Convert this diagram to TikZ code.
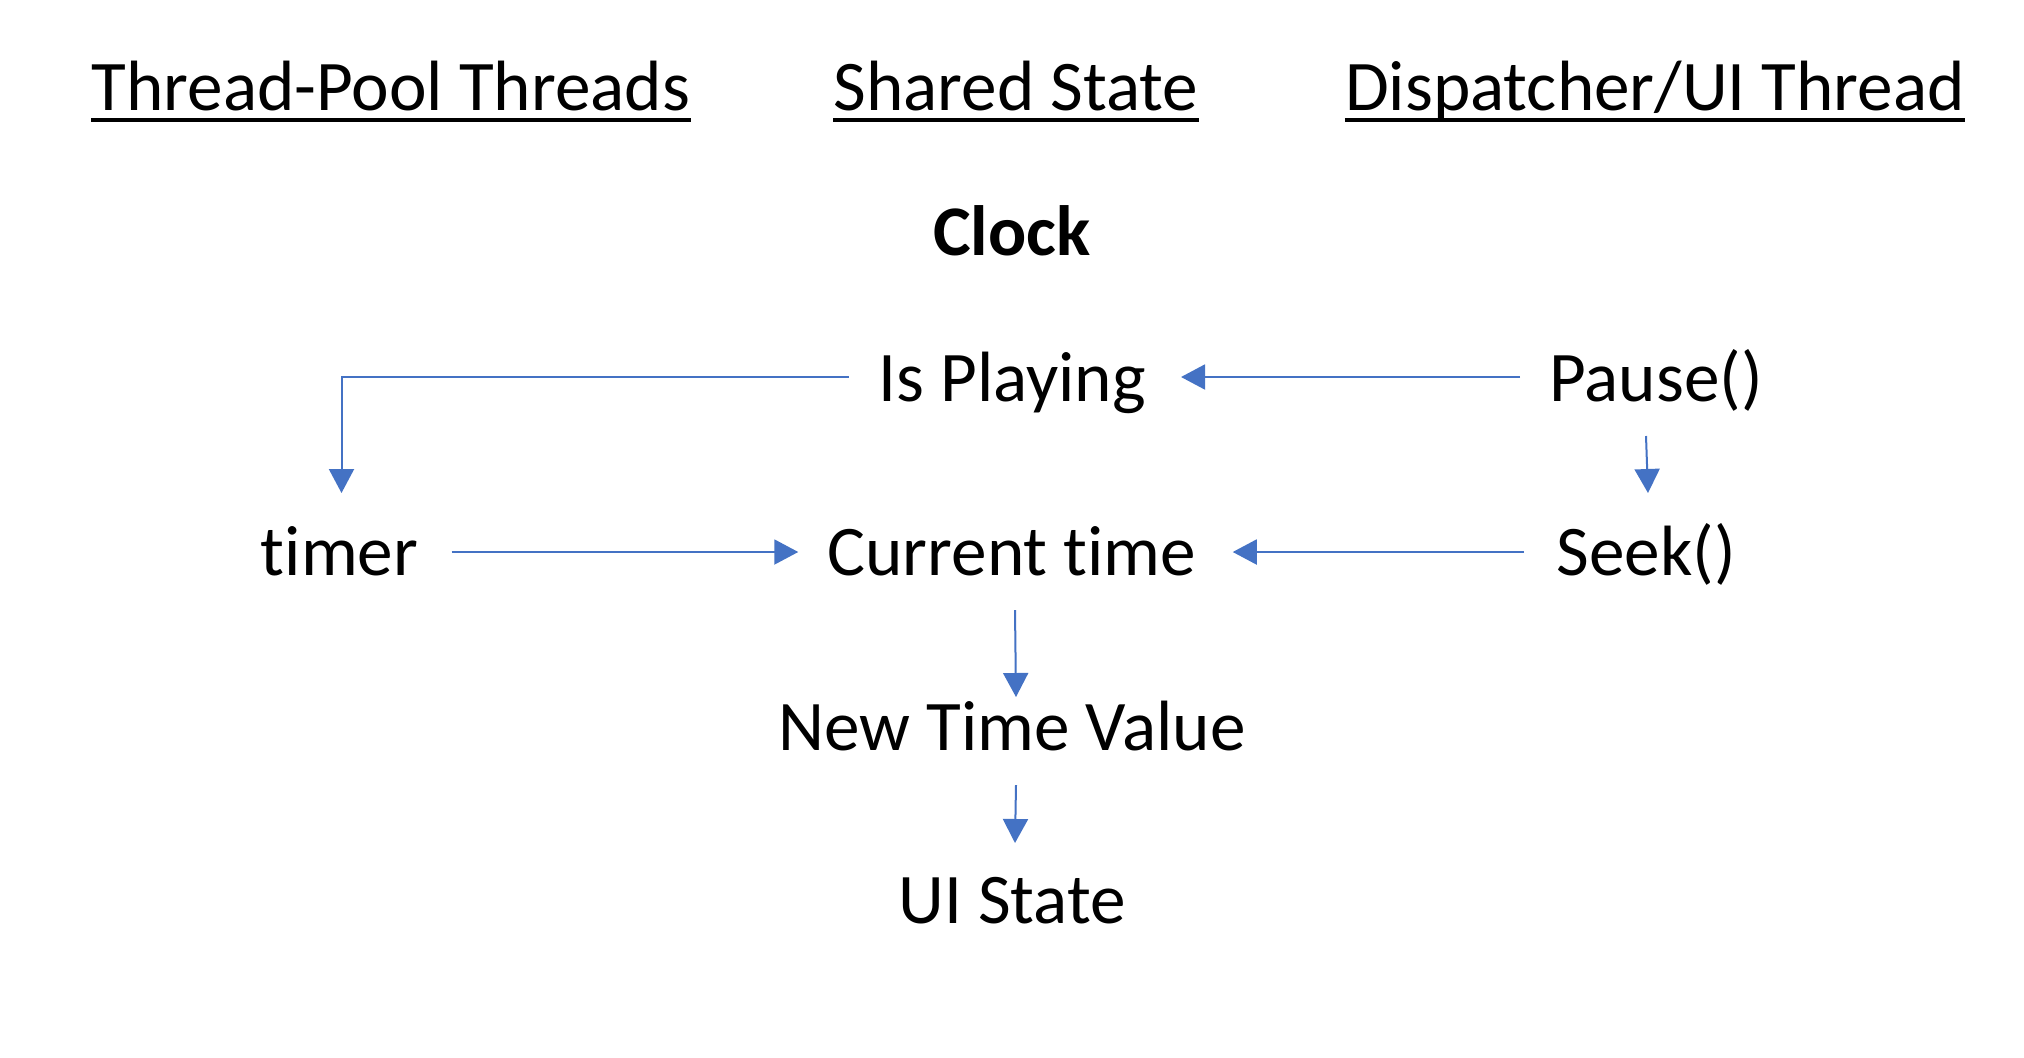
\documentclass[tikz,border=0pt]{standalone}
\usepackage{fontspec}
\setmainfont{Carlito}[Ligatures={NoCommon}]
\usetikzlibrary{arrows.meta,calc}
\definecolor{arrowblue}{HTML}{4472C4}
\begin{document}
\begin{tikzpicture}[x=0.5pt,y=-0.5pt,
  lbl/.style={anchor=base,inner sep=0pt,font=\fontsize{35.6}{42}\selectfont},
  head/.style={lbl},
  uline/.style={line width=2pt,line cap=butt},
  arr/.style={draw=arrowblue,line width=1pt,-{Triangle[length=12pt,width=12.5pt]},arrowblue}]
\useasboundingbox[fill=white] (0,0) rectangle (2024,1057);
% headers
\node[head] (h1) at (391,110) {Thread-Pool Threads};
\node[head] (h2) at (1016,110) {Shared State};
\node[head] (h3) at (1655,110) {Dispatcher/UI Thread};
\foreach \h in {h1,h2,h3}{
  \draw[uline] ($(\h.base west)+(0,10)$) -- ($(\h.base east)+(0,10)$);
}
\node[lbl,font=\fontsize{35.6}{42}\selectfont\bfseries] (clock) at (1012,255) {Clock};
% nodes
\node[lbl] (play) at (1012,401) {Is Playing};
\node[lbl] (pause) at (1656,401) {Pause()};
\node[lbl] (timer) at (339.5,575) {timer};
\node[lbl] (curr) at (1012,575) {Current time};
\node[lbl] (seek) at (1646,575) {Seek()};
\node[lbl] (ntv) at (1012,750) {New Time Value};
\node[lbl] (ui) at (1012,923) {UI State};
% connectors
\draw[arr] ($(play.base west)+(-29,-24)$) -| ($(timer.base)+(2,-82)$);
\draw[arr] ($(pause.base west)+(-29,-24)$) -- ($(play.base east)+(35,-24)$);
\draw[arr] ($(pause.base)+(-10,35)$) -- ($(seek.base)+(2,-82)$);
\draw[arr] ($(timer.base east)+(33,-23)$) -- ($(curr.base west)+(-29,-23)$);
\draw[arr] ($(seek.base west)+(-32,-23)$) -- ($(curr.base east)+(36,-23)$);
\draw[arr] ($(curr.base)+(3,35)$) -- ($(ntv.base)+(4,-53)$);
\draw[arr] ($(ntv.base)+(4,35)$) -- ($(ui.base)+(3,-80)$);
\end{tikzpicture}
\end{document}
